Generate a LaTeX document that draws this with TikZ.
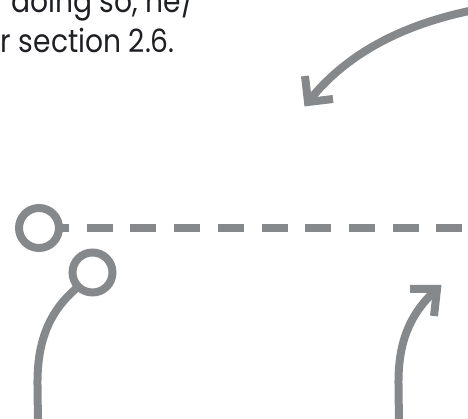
\documentclass[tikz,border=0pt]{standalone}
\usepackage{fontspec}
\setmainfont{Poppins}[FakeStretch=0.88]
\definecolor{lg}{RGB}{134,137,140}
\definecolor{ink}{RGB}{30,32,36}
\begin{document}
\begin{tikzpicture}[x=1pt,y=-1pt,
  gline/.style={draw=lg, line width=8pt},
  chev/.style={gline, line join=miter},
  ring/.style={circle, draw=lg, fill=white, line width=8pt, minimum size=40pt, inner sep=0pt, outer sep=0pt},
  txt/.style={text=ink, inner sep=0pt, font=\fontsize{32}{38}\selectfont}]
\useasboundingbox (0,0) rectangle (468,419);
\clip (0,0) rectangle (468,419);
% text
\node[txt, anchor=base west] (l1) at (11,13) {doing so, he/};
\node[txt, anchor=base east] (l2) at (175,52.7) {r section 2.6.};
% top arrow
\coordinate (t0) at (474,10);
\coordinate (t1) at (308,102);
\coordinate (ta1) at (305,76);
\coordinate (ta2) at (333,99);
\draw[gline] (t0) .. controls (400,25) and (345,55) .. (t1);
\draw[chev] (ta1) -- (t1) -- (ta2);
% dashed line with ring
\node[ring] (c1) at (39,228) {};
\coordinate (dend) at (462.5,228);
\draw[gline, dash pattern=on 26pt off 17.7pt, dash phase=16pt] (c1.east) -- (dend);
% second ring with curve
\node[ring] (c2) at (92.5,272.5) {};
\coordinate (lb) at (38,425);
\draw[gline] (c2.225) .. controls (50,310) and (37,340) .. (37.5,385) -- (lb);
% right arrow
\coordinate (rb) at (399,425);
\coordinate (r1) at (437,289);
\coordinate (ra1) at (410,289);
\coordinate (ra2) at (434,316);
\draw[gline] (rb) -- (398.5,385) .. controls (398,345) and (408,315) .. (r1);
\draw[chev] (ra1) -- (r1) -- (ra2);
\end{tikzpicture}
\end{document}
